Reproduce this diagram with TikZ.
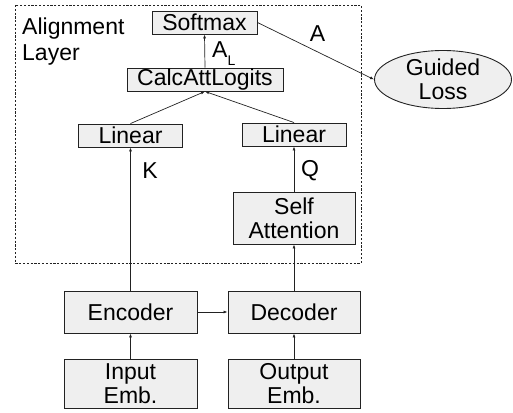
\documentclass[tikz,border=0pt]{standalone}
\usepackage{fontspec}
\setmainfont{Liberation Sans}
\usetikzlibrary{arrows.meta,shapes.geometric}
\definecolor{boxfill}{HTML}{EFEFEF}
\definecolor{edge}{HTML}{222222}
\begin{document}
\begin{tikzpicture}[x=1pt,y=-1pt,
  font=\fontsize{23}{24}\selectfont,
  blk/.style={draw=edge,fill=boxfill,line width=0.9pt,inner sep=0pt,align=center},
  conn/.style={draw=edge,line width=0.7pt,-{Latex[length=4pt,width=3pt]}},
  lbl/.style={inner sep=0pt}]
\useasboundingbox (0,0) rectangle (513,412);
\draw[edge,line width=0.8pt,dash pattern=on 2.2pt off 1.6pt] (15,5) rectangle (361,263);
\node[lbl,anchor=base west] (al1) at (22,35) {Alignment};
\node[lbl,anchor=base west] (al2) at (22,60) {Layer};
\node[blk,minimum width=105pt,minimum height=23pt] (soft) at (204.5,22.5) {Softmax};
\node[blk,minimum width=156pt,minimum height=23pt] (calc) at (205,79.5) {CalcAttLogits};
\node[blk,minimum width=104pt,minimum height=23pt] (link) at (130.5,135.5) {Linear};
\node[blk,minimum width=104pt,minimum height=23pt] (linq) at (294,134.5) {Linear};
\node[blk,minimum width=122pt,minimum height=52pt] (self) at (294,218) {Self\\Attention};
\node[blk,minimum width=133pt,minimum height=42pt] (enc) at (130.5,312) {Encoder};
\node[blk,minimum width=132pt,minimum height=42pt] (dec) at (294,312) {Decoder};
\node[blk,minimum width=133pt,minimum height=49pt] (inp) at (130.5,383.5) {Input\\Emb.};
\node[blk,minimum width=132pt,minimum height=49pt] (outp) at (294,383.5) {Output\\Emb.};
\node[blk,ellipse,minimum width=137pt,minimum height=58pt] (loss) at (443,79.5) {Guided\\Loss};
\draw[conn] (soft.east) -- (loss.west);
\draw[conn] (calc.north) -- (soft.south);
\draw[conn] (link.north) -- (calc.south);
\draw[conn] (linq.north) -- (calc.south);
\draw[conn] (enc.north) -- (link.south);
\draw[conn] (self.north) -- (linq.south);
\draw[conn] (dec.north) -- (self.south);
\draw[conn] (enc.east) -- (dec.west);
\draw[conn] (inp.north) -- (enc.south);
\draw[conn] (outp.north) -- (dec.south);
\node[lbl,anchor=base west] (lal) at (212,57) {A\raisebox{-8pt}{\fontsize{14}{14}\selectfont L}};
\node[lbl] (lk) at (150,170.5) {K};
\node[lbl] (lq) at (310,170.5) {Q};
\node[lbl] (la) at (317.5,33.5) {A};
\end{tikzpicture}
\end{document}
